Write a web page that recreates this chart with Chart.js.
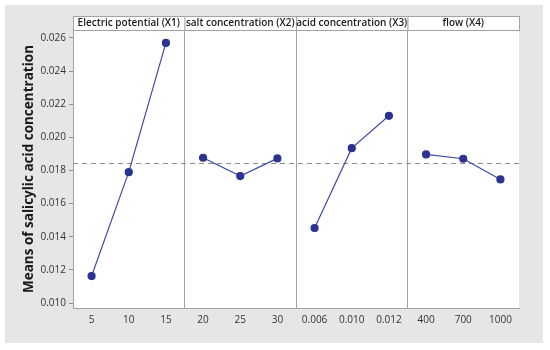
<!DOCTYPE html>
<html>
<head>
<meta charset="utf-8">
<script src="https://cdn.jsdelivr.net/npm/chart.js@4.4.1/dist/chart.umd.min.js"></script>
<style>
  body { margin: 0; background: #ffffff; }
  #box { position: absolute; left: 5px; top: 5px; width: 538px; height: 338px; background: #e6e6e6; }
</style>
</head>
<body>
<div id="box"><canvas id="mainEffects" width="538" height="338"></canvas></div>
<script>
// factor levels and mean responses
const factorNames = ['Electric potential (X1)', 'salt concentration (X2)', 'acid concentration (X3)', 'flow (X4)'];
const levels1 = ['5', '10', '15'];
const means1 = [0.01163, 0.0179, 0.0257];
const levels2 = ['20', '25', '30'];
const means2 = [0.01877, 0.01766, 0.01873];
const levels3 = ['0.006', '0.010', '0.012'];
const means3 = [0.01453, 0.01935, 0.0213];
const levels4 = ['400', '700', '1000'];
const means4 = [0.01897, 0.01871, 0.01746];
const grandMean = 0.01842;
const yTicks = [0.010, 0.012, 0.014, 0.016, 0.018, 0.020, 0.022, 0.024, 0.026];

const allLevels = [levels1, levels2, levels3, levels4];
const allMeans = [means1, means2, means3, means4];
const labels = [].concat(levels1, levels2, levels3, levels4);

const FONT = "'Open Sans', 'DejaVu Sans', sans-serif";
const lineColor = '#3f4aa6';
const dotColor = '#2b3391';
const frameColor = '#a3a3a3';

const datasets = allLevels.map((lv, k) => ({
  label: factorNames[k],
  data: lv.map((l, i) => ({ x: l, y: allMeans[k][i] })),
  borderColor: lineColor,
  backgroundColor: dotColor,
  pointBackgroundColor: dotColor,
  pointBorderColor: dotColor,
  pointRadius: 3.5,
  borderWidth: 1.2,
  tension: 0
}));

// headers over each panel + the dashed grand mean line
const panelPlugin = {
  id: 'panels',
  beforeDatasetsDraw(chart) {
    const { ctx, chartArea, scales } = chart;
    const y = scales.y.getPixelForValue(grandMean);
    ctx.save();
    ctx.strokeStyle = '#8c8c8c';
    ctx.lineWidth = 1;
    ctx.setLineDash([5, 4]);
    ctx.beginPath();
    ctx.moveTo(chartArea.left, y);
    ctx.lineTo(chartArea.right, y);
    ctx.stroke();
    ctx.restore();
  },
  afterDraw(chart) {
    const { ctx, chartArea, scales } = chart;
    const x = scales.x;
    const half = (x.getPixelForValue(1) - x.getPixelForValue(0)) / 2;
    const hTop = chartArea.top - 14;
    ctx.save();
    factorNames.forEach((name, k) => {
      const l = x.getPixelForValue(k * 3) - half;
      const r = x.getPixelForValue(k * 3 + 2) + half;
      ctx.fillStyle = '#ffffff';
      ctx.fillRect(l, hTop, r - l, 14);
      ctx.strokeStyle = frameColor;
      ctx.lineWidth = 1;
      ctx.strokeRect(l + 0.5, hTop + 0.5, r - l, 14);
      ctx.fillStyle = '#1a1a1a';
      ctx.font = '600 10px ' + FONT;
      ctx.textAlign = 'center';
      ctx.textBaseline = 'middle';
      ctx.fillText(name, (l + r) / 2, hTop + 7.5);
    });
    ctx.restore();
  }
};

const canvasBg = {
  id: 'canvasBg',
  beforeDraw(chart) {
    const { ctx, chartArea } = chart;
    ctx.save();
    ctx.fillStyle = '#ffffff';
    ctx.fillRect(chartArea.left, chartArea.top, chartArea.right - chartArea.left, chartArea.bottom - chartArea.top);
    ctx.restore();
  }
};

new Chart(document.getElementById('mainEffects').getContext('2d'), {
  type: 'line',
  data: { labels: labels, datasets: datasets },
  options: {
    responsive: false,
    animation: false,
    layout: { padding: { top: 25, right: 24, left: 0, bottom: 0 } },
    plugins: { legend: { display: false }, tooltip: { enabled: false } },
    scales: {
      x: {
        type: 'category',
        offset: true,
        afterFit(scale) { scale.height = 35; },
        grid: {
          offset: true,
          drawTicks: false,
          color: (c) => (c.index % 3 === 0 ? frameColor : 'rgba(0,0,0,0)'),
          lineWidth: 1
        },
        border: { color: frameColor },
        ticks: { color: '#333333', font: { family: FONT, size: 10 }, padding: 6, autoSkip: false, maxRotation: 0 }
      },
      y: {
        min: 0.0097,
        max: 0.02648,
        afterBuildTicks(scale) { scale.ticks = yTicks.map(v => ({ value: v })); },
        afterFit(scale) { scale.width = 68; },
        grid: { drawOnChartArea: false, tickLength: 4, color: '#8c8c8c' },
        border: { color: frameColor },
        title: {
          display: true,
          text: 'Means of salicylic acid concentration',
          color: '#1a1a1a',
          font: { family: FONT, size: 13.5, weight: 'bold' },
          padding: { top: 16, bottom: 0 }
        },
        ticks: {
          color: '#333333',
          font: { family: FONT, size: 10 },
          padding: 3,
          callback: (v) => v.toFixed(3)
        }
      }
    }
  },
  plugins: [canvasBg, panelPlugin]
});
</script>
</body>
</html>
